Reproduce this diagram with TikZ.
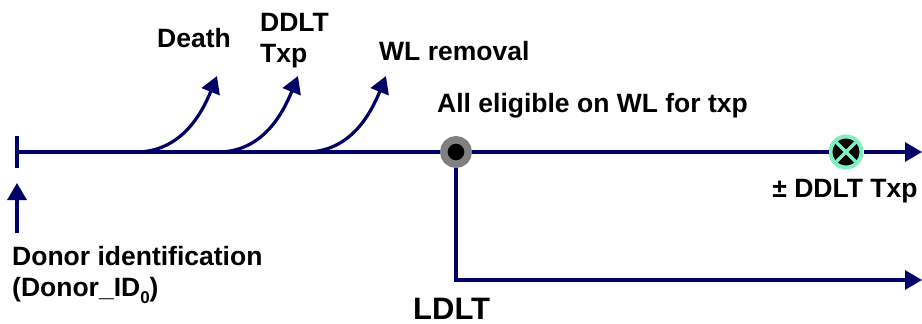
\documentclass[tikz,border=0pt]{standalone}
\usepackage{fontspec}
\setmainfont{Liberation Sans}
\usetikzlibrary{arrows.meta}
\definecolor{navy}{HTML}{000066}
\definecolor{ringgray}{HTML}{808080}
\definecolor{mint}{HTML}{80F0C0}
\tikzset{
  conn/.style={draw=navy, line width=3.2pt},
  arr/.style={conn, -{Triangle[length=17pt,width=19pt]}},
  lbl/.style={font=\fontsize{26.5}{31}\selectfont\bfseries, inner sep=0pt, text=black},
  biglbl/.style={font=\fontsize{31}{36}\selectfont\bfseries, inner sep=0pt, text=black},
  graycirc/.style={circle, fill=black, draw=ringgray, line width=7.5pt, minimum size=24.5pt, inner sep=0pt},
  greencirc/.style={circle, fill=black, draw=mint, line width=4pt, minimum size=31pt, inner sep=0pt,
    path picture={\draw[mint, line width=3.5pt] (path picture bounding box.south west) -- (path picture bounding box.north east)
      (path picture bounding box.north west) -- (path picture bounding box.south east);}},
}
\begin{document}
\begin{tikzpicture}[x=1pt, y=-1pt]
\useasboundingbox (0,0) rectangle (922,324);
% main line
\coordinate (start) at (17,152);
\coordinate (tickT) at (17,136);
\coordinate (tickB) at (17,168);
\node[graycirc] (elig) at (456,152) {};
\node[greencirc] (ddltx) at (846,152) {};
\coordinate (mainend) at (922,152);
\coordinate (ldltend) at (922,280);
\draw[conn] (tickT) -- (tickB);
\draw[conn] (start) -- (elig.west);
\draw[conn] (elig.east) -- (ddltx.west);
\draw[arr] (ddltx.east) -- (mainend);
\draw[arr] (elig.south) |- (ldltend);
% donor arrow
\coordinate (upS) at (17,233);
\coordinate (upE) at (17,183);
\draw[arr] (upS) -- (upE);
% curved exits
\coordinate (c1s) at (136,152);
\coordinate (c1e) at (217,76);
\coordinate (c2s) at (218,152);
\coordinate (c2e) at (298,76);
\coordinate (c3s) at (306,152);
\coordinate (c3e) at (386,76);
\draw[arr] (c1s) to[out=0,in=-112] (c1e);
\draw[arr] (c2s) to[out=0,in=-112] (c2e);
\draw[arr] (c3s) to[out=0,in=-112] (c3e);
% labels
\node[lbl, anchor=base west] (death) at (157,47) {Death};
\node[lbl, anchor=base west, align=left] (ddlt) at (260,62) {DDLT\\Txp};
\node[lbl, anchor=base west] (wlrem) at (379,60) {WL removal};
\node[lbl, anchor=base west] (allel) at (437,112) {All eligible on WL for txp};
\node[lbl, anchor=base] (pmddlt) at (845,197) {± DDLT Txp};
\node[lbl, anchor=base west, align=left] (donor) at (12,296) {Donor identification\\(Donor\_ID\raisebox{-0.3em}{\fontsize{17}{17}\selectfont 0})};
\node[biglbl, anchor=base west] (ldlt) at (413,319) {LDLT};
\end{tikzpicture}
\end{document}
